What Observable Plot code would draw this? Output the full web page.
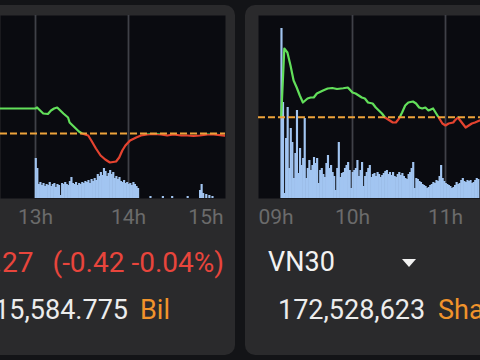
<!DOCTYPE html>
<html><head><meta charset="utf-8">
<script src="https://cdn.jsdelivr.net/npm/d3@7"></script>
<script src="https://cdn.jsdelivr.net/npm/@observablehq/plot@0.6"></script>
<style>
html,body{margin:0;padding:0;}
body{width:480px;height:360px;overflow:hidden;background:#131417;position:relative;font-family:Roboto,"Noto Sans",sans-serif;}
.card{position:absolute;background:#2a2a2c;border-radius:10px;}
.layer{position:absolute;}
.txt{position:absolute;white-space:pre;line-height:30px;font-size:27px;}
</style></head><body>
<div class="card" style="left:-20px;top:5px;width:255px;height:350px"></div>
<div class="card" style="left:245px;top:5px;width:260px;height:350px"></div>
<div id="L1" class="layer" style="left:0;top:15px;width:225px"></div>
<div id="L2" class="layer" style="left:0;top:15px;width:225px"></div>
<div id="R1" class="layer" style="left:258px;top:15px;width:240px"></div>
<div id="R2" class="layer" style="left:258px;top:15px;width:240px"></div>

<div class="txt" style="right:256px;top:248px;color:#e8453c;font-size:28px">1,158.27<span style="margin-left:19px">(-0.42 -0.04%)</span></div>
<div class="txt" style="right:352px;top:295px;color:#ececec">15,584.775</div>
<div class="txt" style="left:140px;top:295px;color:#f0932b">Bil</div>
<div class="txt" style="left:268px;top:247px;color:#f2f2f2">VN30</div>
<div style="position:absolute;left:402px;top:259px;width:0;height:0;border-left:7px solid transparent;border-right:7px solid transparent;border-top:8px solid #f2f2f2"></div>
<div class="txt" style="left:278px;top:295px;color:#ececec">172,528,623</div>
<div class="txt" style="left:438px;top:295px;color:#f0932b">Shares</div>

<script>
// ---------- DATA ----------
// Left panel (VN-Index, afternoon session)
const leftRef = 1158.69;
const leftTimes = ["12:37","13:00","13:01","13:05","13:08","13:10","13:12","13:14","13:16","13:18","13:21","13:22","13:24","13:26","13:28","13:30","13:34","13:36","13:39","13:42","13:45","13:48","13:52","13:54","13:56","13:58","14:01","14:05","14:08","14:12","14:16","14:21","14:25","14:29","14:34","14:38","14:42","14:46","14:51","14:55","15:02"];
const leftPrices = [1163.69,1163.69,1163.89,1162.69,1162.59,1163.29,1163.69,1163.89,1163.29,1162.69,1161.89,1160.89,1160.29,1159.69,1159.09,1158.69,1158.29,1157.29,1155.69,1154.29,1153.49,1152.89,1153.09,1153.89,1155.29,1156.29,1157.29,1157.89,1158.29,1158.49,1158.59,1158.49,1158.29,1158.49,1158.29,1158.29,1158.19,1158.29,1158.49,1158.49,1158.27];
const leftVolStart = "13:00"; // one value per minute
const leftVol = [40,30,14,16,13,15,12,14,13,16,12,14,15,11,14,13,3,15,14,16,14,13,17,21,15,14,16,13,15,14,16,15,17,16,18,15,19,17,20,18,24,22,26,23,30,27,22,25,28,24,26,20,22,19,21,17,16,18,15,16,14,15,13,16,14,12,10,0,0,0,0,0,0,0,2,0,0,0,0,0,0,0,2,0,0,0,0,0,2,0,0,0,0,0,0,0,0,0,2,0,0,0,0,0,0,0,8,14,5,0,4,0,3,0,2];
const leftTicks = ["13h","14h","15h"];
const leftTickHours = [13,14,15];

// Right panel (VN30, morning session)
const rightRef = 1180.00;
const rightTimes = ["9:14","9:16","9:18","9:20","9:22","9:24","9:26","9:28","9:31","9:33","9:35","9:37","9:41","9:44","9:47","9:50","9:54","9:57","10:00","10:02","10:04","10:06","10:08","10:10","10:13","10:15","10:17","10:19","10:21","10:23","10:26","10:28","10:30","10:32","10:34","10:36","10:39","10:41","10:43","10:45","10:47","10:49","10:52","10:54","10:56","10:58","11:00","11:02","11:05","11:06","11:08","11:11","11:13","11:15","11:17","11:19","11:22","11:25"];
const rightPrices = [1180.00,1197.18,1196.18,1192.93,1189.18,1187.43,1185.43,1183.68,1184.68,1184.93,1184.93,1185.93,1186.68,1187.18,1187.30,1187.05,1187.25,1187.43,1186.18,1185.93,1185.43,1184.93,1184.68,1183.68,1183.43,1182.43,1181.68,1180.93,1179.93,1179.43,1178.68,1178.68,1179.68,1181.18,1182.93,1183.68,1183.93,1183.43,1182.43,1182.18,1182.43,1181.68,1182.18,1180.93,1179.68,1178.43,1177.93,1178.43,1178.68,1179.18,1179.93,1178.43,1177.43,1177.93,1178.43,1178.68,1179.18,1179.40];
const rightVolStart = "9:14"; // one value per minute
const rightVol = [170,96,5,60,91,30,70,56,20,45,88,25,50,33,40,80,20,30,38,28,33,41,35,40,15,28,30,24,21,35,43,30,33,26,22,8,30,56,21,25,26,30,33,36,28,10,26,28,30,38,22,28,36,12,22,26,30,33,21,24,25,22,26,24,21,23,25,27,28,24,26,23,26,22,21,24,26,23,25,22,20,19,24,26,30,36,10,20,19,17,16,14,13,12,10,11,13,14,16,15,18,17,22,33,20,17,15,14,13,12,10,11,13,16,14,15,18,20,17,16,18,17,18,15,16,18,20,19];
const rightTicks = ["09h","10h","11h"];
const rightTickHours = [9,10,11];

// ---------- RENDER ----------
const toH = s => { const [h, m] = s.split(":").map(Number); return h + m / 60; };
const PXH = 93, FH = 183, MB = 35;
const GREEN = "#62df5a", RED = "#e5432f";

function panel(id1, id2, cfg) {
  const W = cfg.width;
  const xd = [cfg.x0, cfg.x0 + W / PXH];
  const vs = toH(cfg.volStart);
  const bars = cfg.vol.map((v, i) => ({t: vs + i / 60, t2: vs + (i + 1) / 60, v})).filter(d => d.v > 0);
  const ticks = cfg.tickHours.map((h, i) => ({h, label: cfg.ticks[i]}));
  const tickStyle = {x: "h", text: "label", frameAnchor: "bottom", dy: 19, lineAnchor: "middle", fill: "#6b6b6b", fontSize: 21, fontFamily: "Roboto"};
  const base = Plot.plot({
    width: W, height: FH + MB, marginTop: 0, marginBottom: MB, marginLeft: 0, marginRight: 0,
    x: {domain: xd, axis: null},
    y: {domain: [0, FH], axis: null},
    style: {background: "transparent", overflow: "visible"},
    marks: [
      Plot.frame({fill: "#0a0b10", stroke: "none"}),
      Plot.ruleX(cfg.grid, {stroke: "#3f4148", strokeWidth: 1.8}),
      Plot.rectY(bars, {x1: "t", x2: "t2", y: "v", fill: "#a2c5f1", insetLeft: -0.3, insetRight: -0.3, clip: true}),
      Plot.text(ticks.filter(d => cfg.mid.includes(d.label)), {...tickStyle, textAnchor: "middle"}),
      Plot.text(ticks.filter(d => d.label === cfg.startLabel), {...tickStyle, textAnchor: "start", dx: -1}),
      Plot.text(ticks.filter(d => d.label === cfg.endLabel), {...tickStyle, textAnchor: "end", dx: 2})
    ]
  });
  document.getElementById(id1).append(base);

  const line = cfg.times.map((t, i) => ({t: toH(t), p: cfg.prices[i]}));
  const gid = "grad" + id2;
  const lp = Plot.plot({
    width: W, height: FH + MB, marginTop: 0, marginBottom: MB, marginLeft: 0, marginRight: 0,
    x: {domain: xd, axis: null},
    y: {domain: cfg.yDomain, axis: null},
    style: {background: "transparent"},
    marks: [
      Plot.line(line, {x: "t", y: "p", stroke: `url(#${gid})`, strokeWidth: 2.2, clip: true}),
      Plot.ruleY([cfg.ref], {stroke: "#eda33b", strokeWidth: 2, strokeDasharray: "7,3", clip: true})
    ]
  });
  const yr = lp.scale("y").apply(cfg.ref);
  const ns = "http://www.w3.org/2000/svg";
  const defs = document.createElementNS(ns, "defs");
  const lg = document.createElementNS(ns, "linearGradient");
  lg.setAttribute("id", gid);
  lg.setAttribute("gradientUnits", "userSpaceOnUse");
  lg.setAttribute("x1", 0); lg.setAttribute("x2", 0);
  lg.setAttribute("y1", 0); lg.setAttribute("y2", FH + MB);
  const off = yr / (FH + MB);
  [[0, GREEN], [off, GREEN], [off, RED], [1, RED]].forEach(([o, c]) => {
    const s = document.createElementNS(ns, "stop");
    s.setAttribute("offset", o); s.setAttribute("stop-color", c);
    lg.appendChild(s);
  });
  defs.appendChild(lg);
  lp.insertBefore(defs, lp.firstChild);
  document.getElementById(id2).append(lp);
}

panel("L1", "L2", {
  width: 225, x0: 13 - 35 / PXH, grid: [13, 14],
  vol: leftVol, volStart: leftVolStart,
  times: leftTimes, prices: leftPrices, ref: leftRef,
  yDomain: [leftRef - 13, leftRef + 23.6],
  ticks: leftTicks, tickHours: leftTickHours, mid: ["13h", "14h"], startLabel: null, endLabel: "15h"
});
panel("R1", "R2", {
  width: 240, x0: 9 - 1 / PXH, grid: [10, 11],
  vol: rightVol, volStart: rightVolStart,
  times: rightTimes, prices: rightPrices, ref: rightRef,
  yDomain: [rightRef - 20.32, rightRef + 25.43],
  ticks: rightTicks, tickHours: rightTickHours, mid: ["10h", "11h"], startLabel: "09h", endLabel: null
});
</script>
</body></html>
